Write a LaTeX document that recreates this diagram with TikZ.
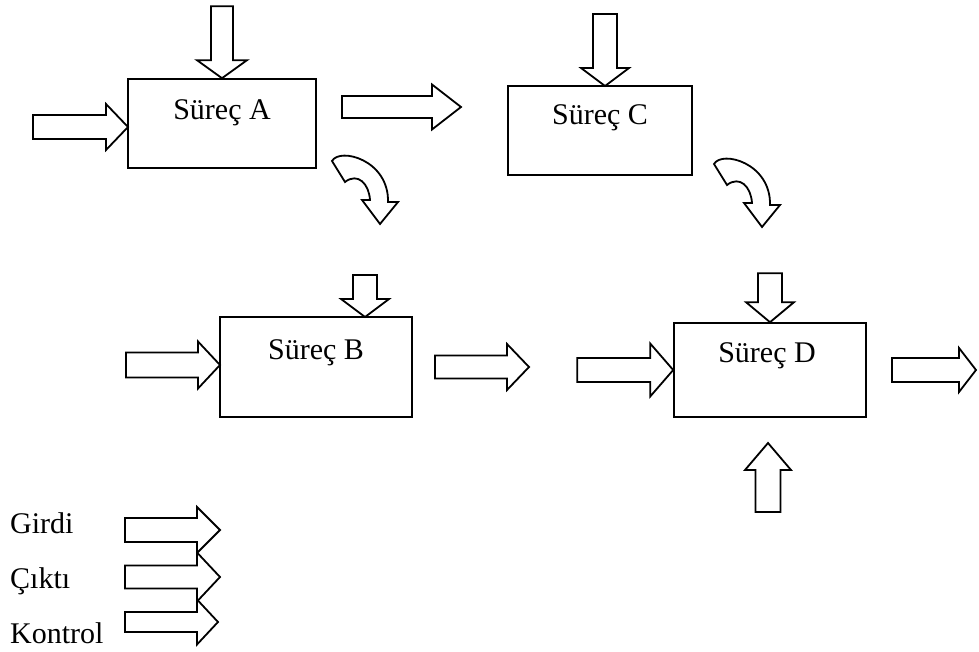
\documentclass[tikz,border=0pt]{standalone}
\usepackage{fontspec}
\setmainfont{Liberation Serif}

% Block arrow: tip position, rotation, shaft length, shaft half-width,
% head length, head half-width. Drawn pointing right before rotation.
\newcommand\blockarrow[6]{%
  \draw[arrowline, shift={(#1)}, rotate=#2]
    (-#3-#5,-#4) -- (-#5,-#4) -- (-#5,-#6) -- (0,0) -- (-#5,#6)
    -- (-#5,#4) -- (-#3-#5,#4) -- cycle;}

% Curved block arrow bending down to its tip.
\newcommand\bendarrow[1]{%
  \draw[arrowline, shift={(#1)}]
    (-48,-63) .. controls (-40,-77) and (9,-64) .. (8,-22)
    -- (18,-22) -- (0,0) -- (-18,-24) -- (-10,-24)
    .. controls (-11,-40) and (-22,-52) .. (-35,-42) -- cycle;}

\tikzset{
  procbox/.style={draw, line width=1.6pt, inner sep=0pt},
  arrowline/.style={draw, line width=1.8pt, line join=miter, fill=white},
  lbl/.style={font=\fontsize{30}{36}\selectfont, inner sep=0pt, anchor=base},
}

\begin{document}
\begin{tikzpicture}[x=1pt, y=-1pt]
\useasboundingbox (0,0) rectangle (979,652);

% process boxes
\node[procbox, minimum width=188pt, minimum height=89pt] (A) at (222,123.5) {};
\node[lbl] (At) at (222,120) {Süreç A};
\node[procbox, minimum width=184pt, minimum height=89pt] (C) at (600,130.5) {};
\node[lbl] (Ct) at (600,125) {Süreç C};
\node[procbox, minimum width=192pt, minimum height=100pt] (B) at (316,367) {};
\node[lbl] (Bt) at (316,359) {Süreç B};
\node[procbox, minimum width=192pt, minimum height=94pt] (D) at (770,370) {};
\node[lbl] (Dt) at (767,362) {Süreç D};

% arrows around process A
\blockarrow{A.north}{-90}{54}{11}{18}{25}
\blockarrow{128,127}{0}{73}{12}{22}{23}
\blockarrow{461,107}{0}{90}{11}{29}{22.5}
\bendarrow{380,224}

% arrows around process C
\blockarrow{605,86}{-90}{54}{12}{18}{24}
\bendarrow{762,227}

% arrows around process B
\blockarrow{365,317}{-90}{24}{12}{18}{24}
\blockarrow{220,365}{0}{72}{12.5}{22}{23.5}
\blockarrow{529,367}{0}{72}{11.5}{22}{23}

% arrows around process D
\blockarrow{D.north}{-90}{29}{12}{20}{24}
\blockarrow{D.west}{0}{73}{12}{23}{26.5}
\blockarrow{976,370}{0}{67}{12}{17}{22}
\blockarrow{768,443}{90}{42}{12.5}{27}{23}

% legend
\node[lbl, anchor=base west] (girdi) at (10,533) {Girdi};
\node[lbl, anchor=base west] (cikti) at (10,588) {Çıktı};
\node[lbl, anchor=base west] (kontrol) at (10,643) {Kontrol};
\blockarrow{220,530}{0}{72}{12}{23}{23}
\blockarrow{220,577}{0}{72}{11.5}{23}{24.5}
\blockarrow{218,622}{0}{72}{10}{21}{22.5}
\end{tikzpicture}
\end{document}
